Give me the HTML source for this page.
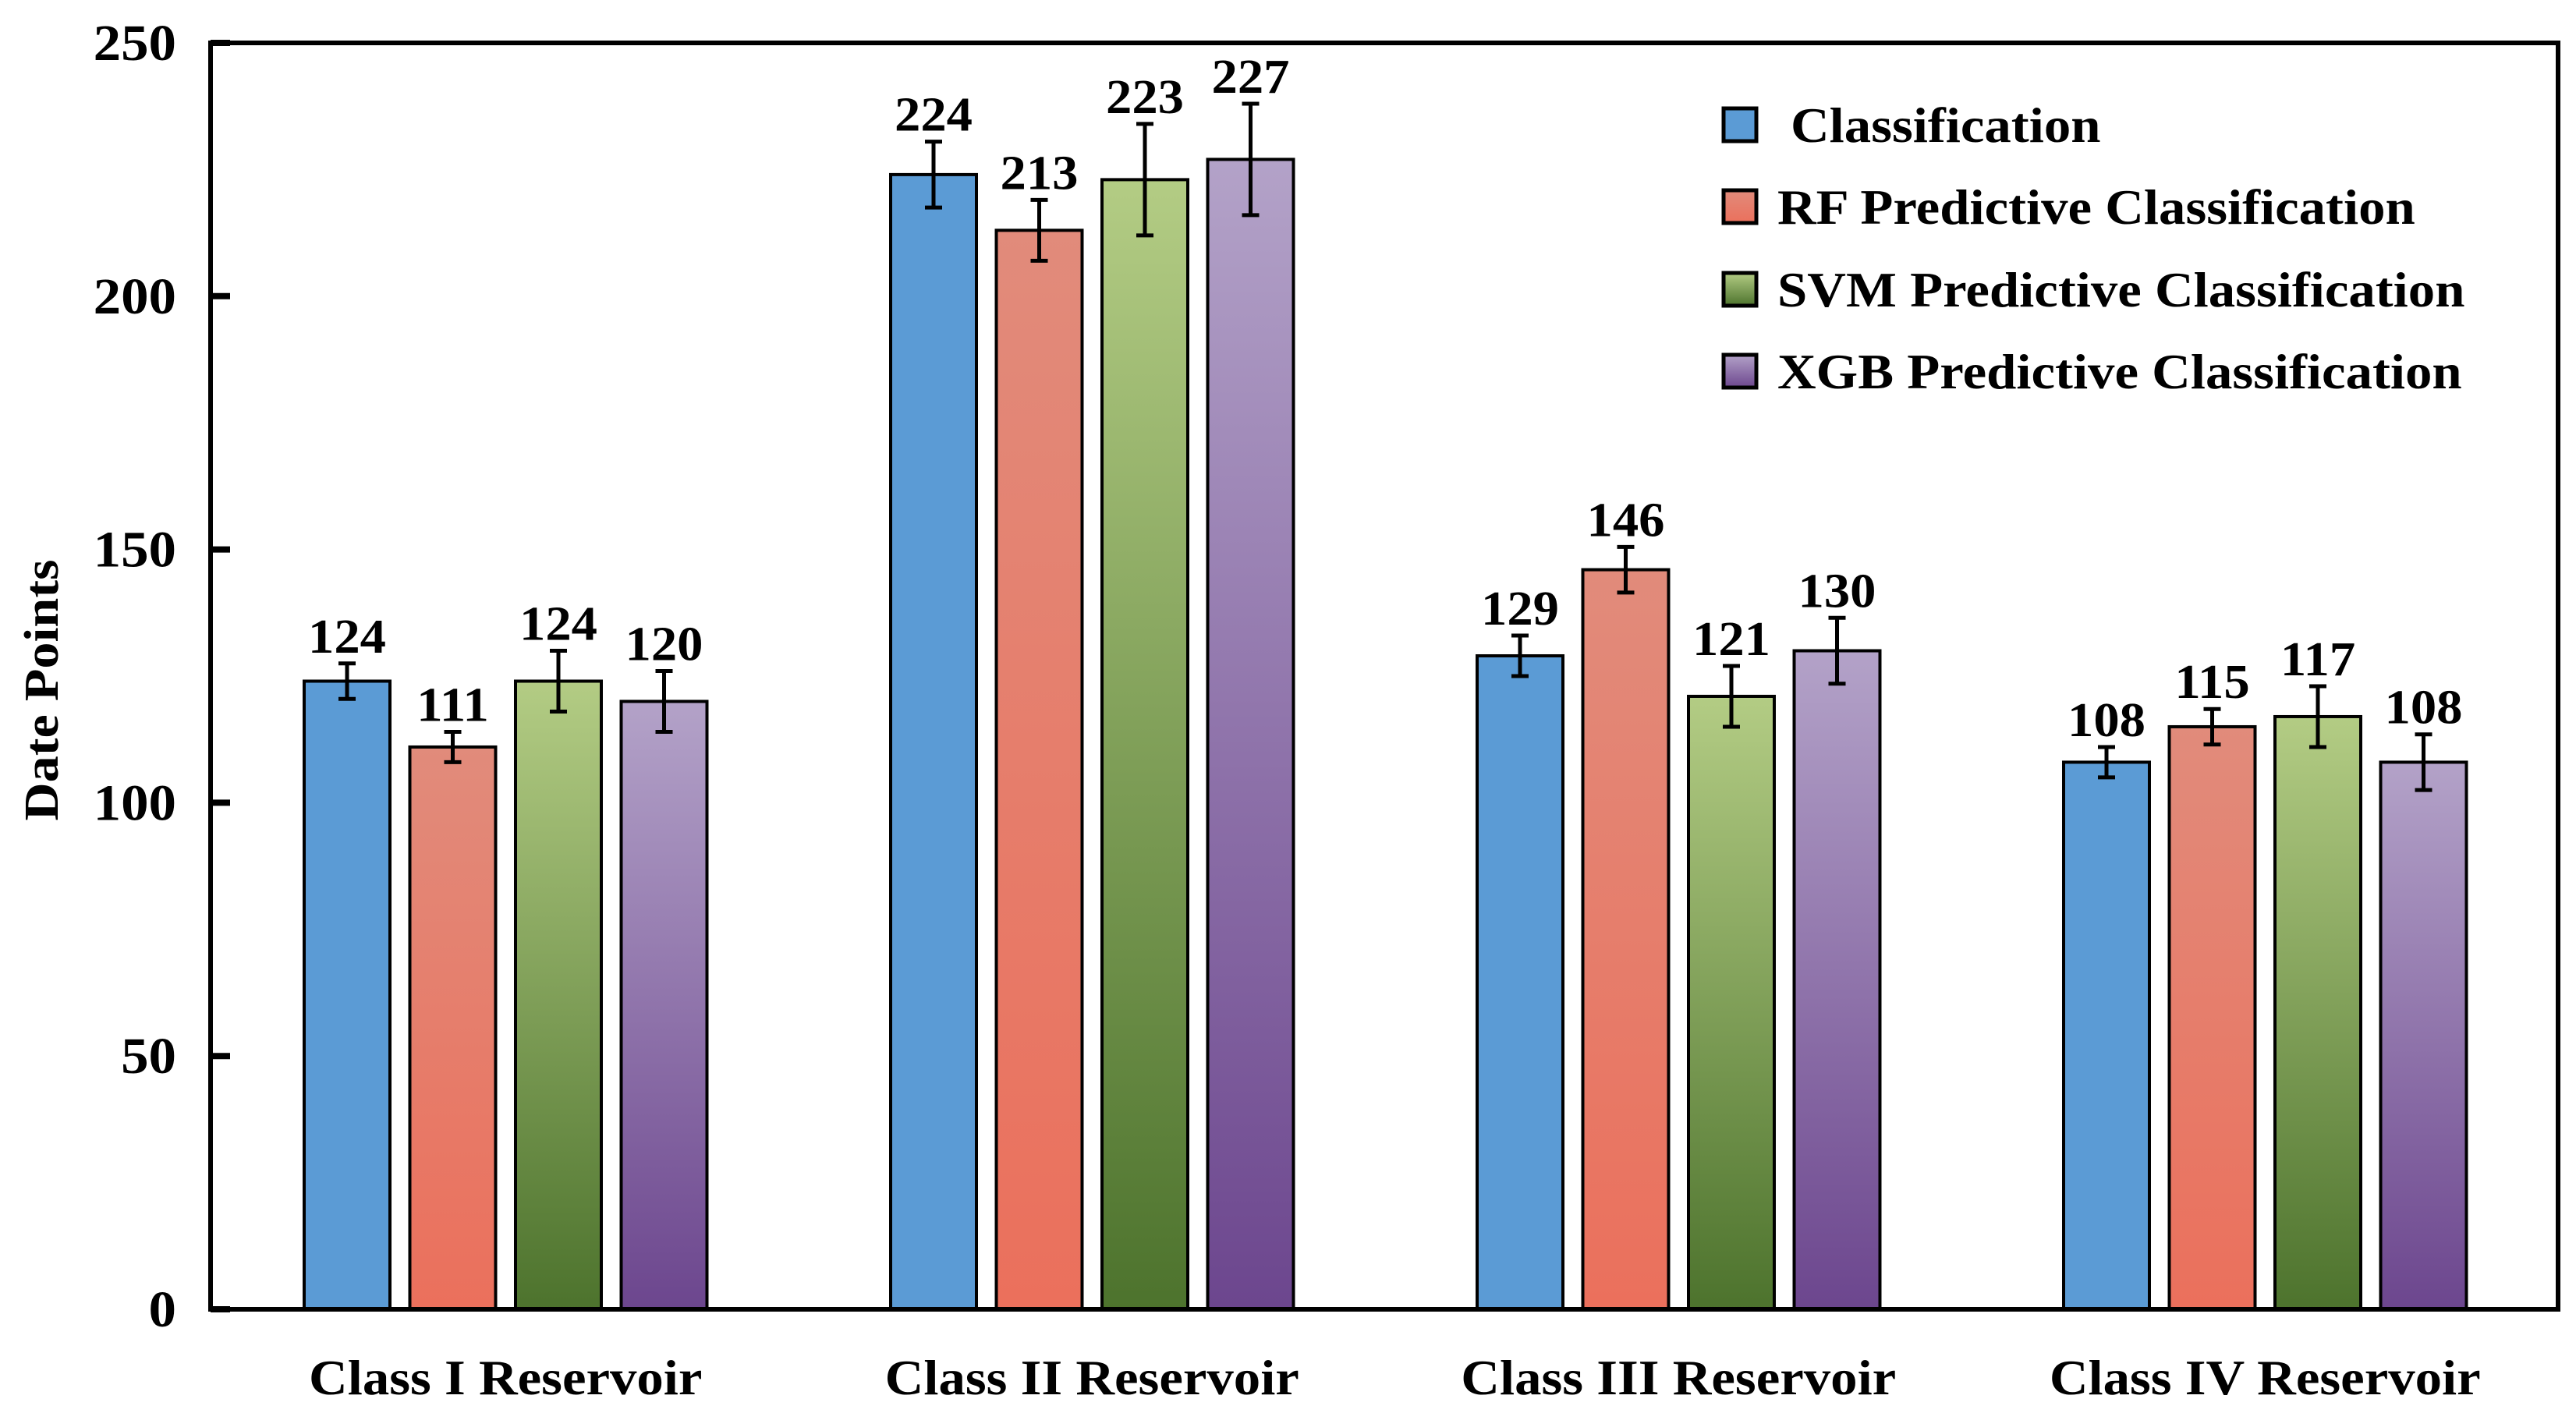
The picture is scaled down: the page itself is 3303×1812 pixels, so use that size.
<!DOCTYPE html>
<html><head><meta charset="utf-8"><style>
html,body{margin:0;padding:0;background:#fff;}
svg{display:block;font-family:"Liberation Serif",serif;font-weight:bold;}
</style></head><body>
<svg id="chart" width="3303" height="1812" viewBox="0 0 3303 1812" xmlns="http://www.w3.org/2000/svg">
<defs>
<linearGradient id="gBlue" x1="0" y1="0" x2="0" y2="1"><stop offset="0" stop-color="#5b9bd5"/><stop offset="1" stop-color="#5b9bd5"/></linearGradient>
<linearGradient id="gRed" x1="0" y1="0" x2="0" y2="1"><stop offset="0" stop-color="#e18b7b"/><stop offset="1" stop-color="#eb705c"/></linearGradient>
<linearGradient id="gGreen" x1="0" y1="0" x2="0" y2="1"><stop offset="0" stop-color="#b3cc84"/><stop offset="1" stop-color="#4d732d"/></linearGradient>
<linearGradient id="gPurple" x1="0" y1="0" x2="0" y2="1"><stop offset="0" stop-color="#b3a2c8"/><stop offset="1" stop-color="#6c468e"/></linearGradient>
</defs>
<g id="bars"></g>
<g id="axes"></g>
<text transform="translate(74,885) rotate(-90) scale(1.1,1)" text-anchor="middle" font-size="62">Date Points</text>
<g id="legend"></g>
</svg>
<script>
const categories = ["Class I Reservoir","Class II Reservoir","Class III Reservoir","Class IV Reservoir"];
const seriesNames = ["Classification","RF Predictive Classification","SVM Predictive Classification","XGB Predictive Classification"];
const classificationVals = [124,224,129,108];
const rfVals = [111,213,146,115];
const svmVals = [124,223,121,117];
const xgbVals = [120,227,130,108];
const classificationErr = [3.5,6.5,4,3];
const rfErr = [3,6,4.5,3.5];
const svmErr = [6,11,6,6];
const xgbErr = [6,11,6.5,5.5];
const yTicks = [0,50,100,150,200,250];

const NS="http://www.w3.org/2000/svg";
const L=270,R=3280,T=55,B=1679,YMAX=250;
const SX=1.075;
const y=v=>B-(v/YMAX)*(B-T);
const groupX=i=>390+i*752;
const barW=110, barStep=135.5;
const fills=["url(#gBlue)","url(#gRed)","url(#gGreen)","url(#gPurple)"];
const vals=[classificationVals,rfVals,svmVals,xgbVals];
const errs=[classificationErr,rfErr,svmErr,xgbErr];
function mk(tag,attrs,parent,text){const e=document.createElementNS(NS,tag);for(const k in attrs)e.setAttribute(k,attrs[k]);if(text!==undefined)e.textContent=text;parent.appendChild(e);return e;}
function txt(x,yy,anchor,size,parent,text){return mk('text',{x:0,y:0,transform:'translate('+x+','+yy+') scale('+SX+',1)','text-anchor':anchor,'font-size':size},parent,text);}
const gb=document.getElementById('bars');
categories.forEach((c,i)=>{
  for(let s=0;s<4;s++){
    const v=vals[s][i], er=errs[s][i];
    const x=groupX(i)+s*barStep;
    const r=mk('rect',{x:x,y:y(v),width:barW,height:B-y(v),fill:fills[s],stroke:'#000','stroke-width':4},gb);
    
    
    const cx=x+barW/2;
    const eg=mk('g',{stroke:'#000','stroke-width':5},gb);
    
    
    mk('line',{x1:cx,x2:cx,y1:y(v+er),y2:y(v-er)},eg);
    mk('line',{x1:cx-11,x2:cx+11,y1:y(v+er),y2:y(v+er)},eg);
    mk('line',{x1:cx-11,x2:cx+11,y1:y(v-er),y2:y(v-er)},eg);
    const t=txt(cx,y(v+er)-14,'middle',62,gb,String(v));
    
    
  }
  const cl=txt(groupX(i)+1.5*barStep+barW/2,1788,'middle',64,gb,c);
  
  
});
const ga=document.getElementById('axes');
const frame=mk('rect',{x:L,y:T,width:R-L,height:B-T,fill:'none',stroke:'#000','stroke-width':6},ga);


yTicks.forEach(v=>{
  const tk=mk('line',{x1:L,x2:L+25,y1:y(v),y2:y(v),stroke:'#000','stroke-width':8},ga);
  
  
  const tl=txt(226,y(v)+22,'end',66,ga,String(v));
  
  
});
const gl=document.getElementById('legend');
const ly=[160,265,371,476];
seriesNames.forEach((n,s)=>{
  const g=mk('g',{},gl);
  
  
  mk('rect',{x:2210,y:ly[s]-21,width:42,height:42,fill:fills[s],stroke:'#000','stroke-width':5},g);
  txt(s===0?2296:2279,ly[s]+22,'start',64,g,n);
});
</script>
</body></html>
